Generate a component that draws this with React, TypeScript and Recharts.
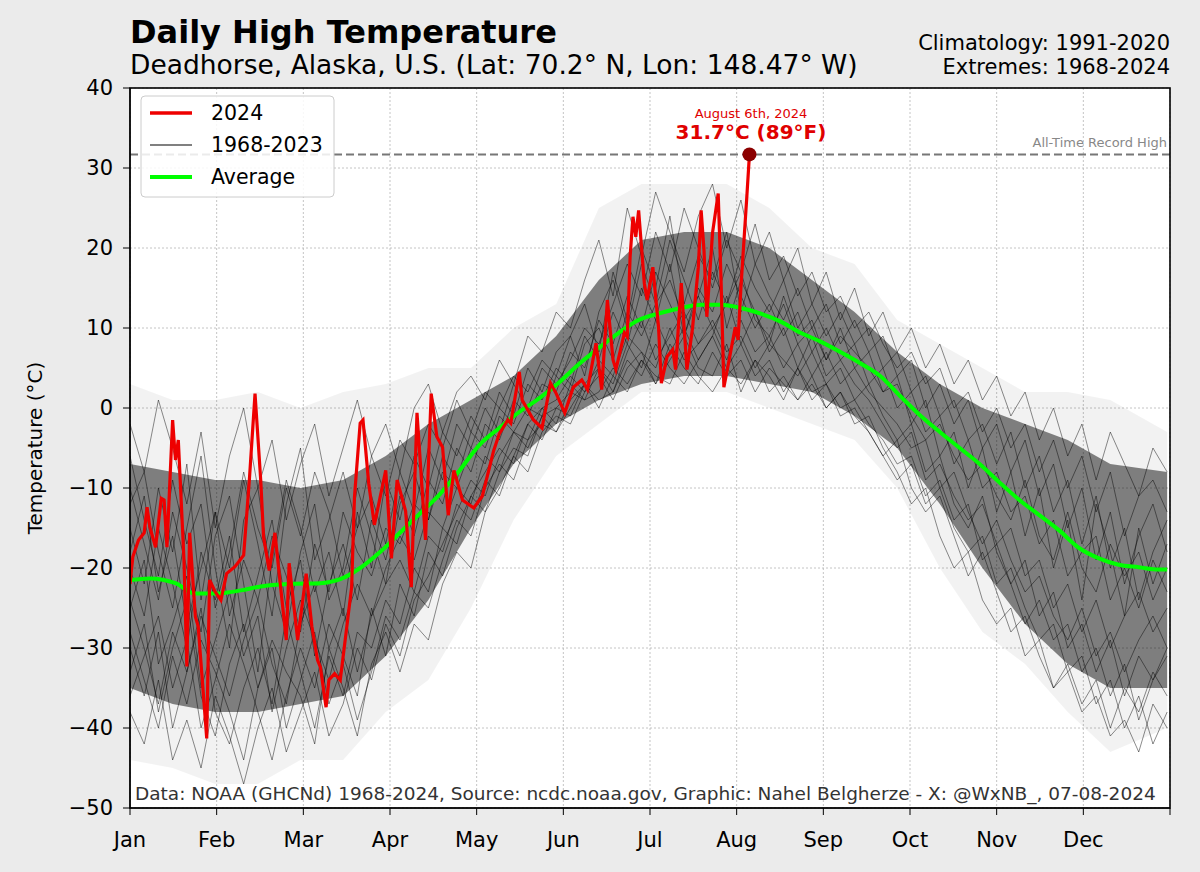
import React from 'react';
import { ComposedChart, Line, Area, XAxis, YAxis, CartesianGrid, ReferenceLine, ReferenceDot } from 'recharts';

const FONT = '"DejaVu Sans", Verdana, sans-serif';
const MONTHS = ['Jan', 'Feb', 'Mar', 'Apr', 'May', 'Jun', 'Jul', 'Aug', 'Sep', 'Oct', 'Nov', 'Dec'];
const X_TICKS = [0, 30.5, 61, 91.5, 122, 152.5, 183, 213.5, 244, 274.5, 305, 335.5, 366];
const Y_TICKS = [-50, -40, -30, -20, -10, 0, 10, 20, 30, 40];

// 2024 daily highs (day of year, 0 = Jan 1)
const RED_DAYS = [0, 1, 3, 5, 6, 7, 9, 11, 12, 13, 15, 16, 17, 19, 20, 21, 23, 24, 27, 28, 30, 32, 34, 37, 40, 42, 44, 46, 47, 49, 51, 53, 55, 56, 59, 62, 64, 66, 67, 69, 70, 72, 74, 76, 78, 79, 81, 82, 84, 86, 90, 92, 94, 97, 99, 101, 104, 106, 108, 110, 112, 114, 117, 121, 124, 128, 130, 133, 134, 137, 138, 142, 145, 148, 150, 153, 156, 159, 161, 164, 166, 168, 170, 171, 174, 175, 176, 177, 178, 179, 181, 182, 184, 186, 187, 189, 191, 192, 194, 195, 196, 198, 200, 201, 202, 203, 205, 207, 208, 209, 210, 213, 214, 215, 217, 218];
const RED_VALS = [-22, -18.6, -16.5, -15.6, -12.4, -14.9, -17.4, -11.3, -11.5, -17.4, -1.5, -6.5, -4, -19, -32.3, -15.6, -26.1, -27.3, -41.3, -21.5, -23, -24, -20.7, -19.8, -18.4, -9, 1.8, -9, -16.1, -20.3, -15.6, -22.4, -29, -19.4, -29, -20.7, -27.3, -31.5, -32.4, -37.4, -34, -33.2, -34, -28.2, -22.4, -11.1, -1.9, -1.5, -9.4, -14.6, -7.8, -18.8, -9, -12.9, -22.4, -0.6, -16.5, 1.8, -3.6, -4.9, -13.4, -7.8, -11.5, -12.5, -11, -5.3, -3.2, -1.5, -1.9, 4.5, 1, -1.5, -2.5, 3.1, 1.8, -0.6, 2.6, 3.5, 2.3, 8.1, 2.3, 13.5, 6, 4.8, 9.4, 8.9, 18.9, 23.9, 21.4, 24.7, 15.6, 13.5, 17.6, 10.1, 3.1, 6.4, 7.3, 4.8, 15.6, 10.1, 4.8, 10.1, 17.6, 24.7, 19.7, 11.4, 21.9, 26.8, 16, 2.6, 4.4, 10.1, 8.5, 15.1, 26, 31.7];

// 1991-2020 average
const AVG_DAYS = [0, 7, 16, 23, 30, 39, 46, 56, 67, 74, 81, 88, 95, 102, 109, 116, 123, 130, 137, 144, 151, 158, 165, 172, 179, 187, 194, 201, 208, 215, 222, 229, 236, 243, 250, 257, 264, 271, 278, 285, 292, 299, 306, 313, 320, 327, 334, 341, 348, 355, 362, 365];
const AVG_VALS = [-21.5, -21.3, -21.9, -23.2, -23.2, -22.8, -22.3, -22, -21.9, -21.4, -20, -18, -15.6, -13.2, -10.8, -7.8, -4.6, -2.5, -0.5, 1.2, 3.2, 5.5, 7.5, 9.4, 11, 11.9, 12.5, 12.9, 12.9, 12.5, 11.8, 10.8, 9.4, 8.3, 7, 5.6, 4, 1.5, -0.9, -3, -5, -7, -9.3, -11.5, -13.4, -15.3, -17.5, -18.8, -19.6, -19.9, -20.2, -20.2];

// spread of the 1968-2023 spaghetti: dense core and outer extent
const BAND_DAYS = [0, 15, 30, 45, 60, 75, 90, 105, 120, 135, 150, 165, 180, 195, 210, 225, 240, 255, 270, 285, 300, 315, 330, 345, 365];
const CORE_LO = [-35, -37, -38, -38, -37, -36, -31, -24, -15, -7, -2, 1, 3, 4, 4, 3, 2, -1, -5, -12, -20, -27, -32, -35, -35];
const CORE_HI = [-7, -8, -9, -9, -10, -9, -6, -2, 1, 4, 9, 16, 21, 22, 22, 20, 16, 12, 7, 3, 0, -2, -4, -7, -8];
const OUTER_LO = [-44, -45, -47, -47, -44, -44, -38, -34, -25, -14, -6, -2, 2, 2, 2, 0, -2, -4, -10, -20, -28, -32, -38, -43, -40];
const OUTER_HI = [3, 1, 1, 2, 0, 2, 3, 5, 5, 10, 13, 25, 28, 28, 28, 25, 20, 18, 11, 8, 5, 2, 2, 1, -3];

// a handful of past years, every 5 days
const TRACE_DAYS = [0, 5, 10, 15, 20, 25, 30, 35, 40, 45, 50, 55, 60, 65, 70, 75, 80, 85, 90, 95, 100, 105, 110, 115, 120, 125, 130, 135, 140, 145, 150, 155, 160, 165, 170, 175, 180, 185, 190, 195, 200, 205, 210, 215, 220, 225, 230, 235, 240, 245, 250, 255, 260, 265, 270, 275, 280, 285, 290, 295, 300, 305, 310, 315, 320, 325, 330, 335, 340, 345, 350, 355, 360, 365];
const TRACES = [
  [-12, -8, -18, -25, -15, -6, -20, -30, -14, -10, -22, -28, -18, -12, -24, -20, -10, -16, -22, -12, -8, -14, -6, -9, -3, -5, 0, -2, 3, 1, 5, 3, 9, 6, 12, 8, 15, 11, 18, 9, 14, 20, 10, 16, 12, 8, 14, 9, 11, 6, 10, 5, 7, 2, 4, -2, 1, -6, -3, -10, -5, -13, -8, -16, -10, -20, -14, -24, -12, -18, -26, -15, -22, -17],
  [-30, -36, -28, -40, -33, -25, -38, -42, -35, -30, -37, -26, -33, -40, -31, -36, -28, -30, -24, -27, -20, -23, -15, -17, -11, -8, -5, -7, -2, 0, 1, 4, 2, 6, 4, 9, 7, 5, 10, 6, 8, 11, 7, 9, 5, 8, 6, 4, 7, 3, 5, 1, 3, -1, -4, -2, -8, -6, -12, -15, -11, -18, -22, -19, -26, -23, -30, -27, -33, -29, -36, -31, -34, -30],
  [-20, -26, -15, -22, -30, -18, -24, -16, -28, -21, -14, -25, -19, -31, -22, -17, -24, -14, -19, -11, -16, -9, -12, -5, -8, -2, -4, 1, -1, 3, 2, 7, 5, 11, 8, 14, 10, 17, 13, 9, 15, 12, 18, 14, 10, 13, 9, 12, 7, 10, 6, 8, 3, 5, 0, 2, -3, -1, -7, -4, -10, -8, -13, -11, -17, -14, -21, -18, -16, -24, -20, -25, -19, -23],
  [-38, -42, -34, -44, -39, -45, -36, -41, -47, -40, -35, -43, -38, -33, -41, -37, -30, -34, -27, -31, -24, -21, -17, -13, -9, -11, -6, -3, -4, 0, -2, 3, 1, 2, 5, 3, 6, 4, 3, 7, 4, 2, 5, 3, 6, 2, 4, 1, 3, 0, 2, -2, -1, -5, -8, -12, -10, -16, -20, -18, -24, -27, -25, -31, -29, -35, -33, -38, -36, -41, -39, -43, -37, -40],
  [-2, -8, 1, -5, -12, -3, -15, -6, 0, -10, -4, -14, -7, -2, -11, -5, 1, -6, -2, -8, 0, 3, -3, 2, 4, 1, 6, 3, 9, 7, 12, 10, 16, 21, 14, 25, 19, 27, 22, 17, 24, 28, 20, 26, 18, 22, 16, 20, 13, 17, 11, 15, 9, 12, 7, 10, 5, 8, 3, 6, 1, 4, -1, 2, -4, 0, -6, -2, -9, -3, -7, -11, -5, -8],
  [-25, -19, -32, -27, -21, -35, -29, -23, -31, -26, -38, -30, -24, -29, -34, -27, -22, -26, -20, -16, -19, -13, -15, -10, -12, -6, -8, -3, -5, -1, 0, 2, 1, 5, 3, 8, 5, 11, 7, 10, 6, 9, 14, 8, 12, 7, 10, 5, 9, 4, 6, 3, 1, -2, -5, -3, -9, -7, -11, -14, -12, -17, -15, -21, -19, -25, -22, -28, -24, -30, -26, -23, -28, -25],
  [-15, -22, -10, -18, -7, -24, -13, -20, -9, -17, -26, -12, -5, -19, -14, -8, -15, -6, -11, -4, -7, -2, -5, 1, -3, 2, 0, 4, 2, 6, 4, 9, 13, 7, 17, 11, 20, 15, 24, 13, 19, 16, 22, 12, 18, 14, 11, 15, 10, 13, 8, 11, 7, 9, 4, 6, 0, 3, -2, 1, -5, -2, -8, -4, -11, -7, -15, -10, -19, -13, -22, -16, -12, -18],
  [-33, -27, -38, -30, -24, -36, -41, -32, -27, -35, -30, -40, -34, -28, -37, -32, -39, -33, -26, -29, -23, -25, -19, -14, -16, -10, -7, -9, -4, -2, -3, 1, 3, 0, 4, 2, 6, 3, 8, 5, 3, 7, 4, 6, 2, 5, 3, 1, 4, 0, 2, -1, -3, -6, -4, -10, -13, -11, -16, -21, -18, -23, -28, -26, -31, -35, -32, -37, -34, -40, -35, -38, -33, -36],
  [-18, -11, -23, -16, -27, -20, -13, -26, -19, -24, -16, -21, -28, -17, -23, -13, -18, -21, -15, -17, -12, -14, -8, -10, -5, -7, -1, -3, 0, -1, 4, 2, 8, 10, 6, 12, 9, 13, 16, 11, 14, 10, 13, 17, 11, 9, 13, 8, 10, 6, 9, 7, 5, 2, 3, -1, -4, -2, -6, -9, -7, -11, -14, -9, -16, -19, -13, -20, -23, -17, -21, -18, -24, -20],
  [-28, -34, -40, -31, -37, -29, -33, -38, -44, -35, -29, -33, -36, -42, -30, -35, -41, -32, -28, -33, -27, -29, -22, -18, -20, -13, -10, -6, -8, -3, -1, -2, 2, 4, 1, 5, 7, 3, 6, 9, 5, 4, 8, 2, 6, 4, 1, 5, 2, 3, 0, 1, -2, -4, -7, -6, -11, -9, -14, -12, -19, -17, -22, -27, -24, -29, -27, -33, -30, -36, -32, -39, -34, -31],
  [-10, -17, -24, -13, -20, -28, -16, -11, -22, -33, -19, -9, -15, -23, -18, -26, -13, -20, -9, -14, -6, -10, -3, -6, -1, -4, 2, -1, 5, 2, 7, 9, 4, 12, 16, 10, 18, 13, 21, 16, 11, 17, 13, 19, 15, 12, 16, 10, 13, 9, 12, 8, 10, 5, 7, 2, 4, -1, 1, -4, -2, -7, -3, -10, -6, -13, -9, -17, -11, -20, -15, -24, -18, -14],
  [-36, -31, -26, -35, -29, -40, -34, -27, -32, -38, -44, -36, -30, -35, -27, -31, -36, -25, -31, -22, -26, -18, -21, -15, -11, -13, -8, -5, -6, -1, -3, 0, 3, 1, 2, 6, 4, 8, 5, 3, 6, 9, 5, 8, 4, 6, 2, 5, 1, 3, -1, 0, -3, -6, -9, -7, -12, -10, -15, -18, -16, -22, -20, -25, -29, -27, -33, -31, -37, -34, -40, -36, -42, -38],
  [-6, -14, -21, -9, -17, -12, -25, -18, -8, -15, -20, -10, -16, -8, -13, -21, -15, -11, -17, -8, -13, -5, -9, -2, -5, 0, -3, 3, 0, 5, 3, 6, 10, 8, 13, 18, 14, 22, 17, 25, 20, 15, 21, 17, 23, 16, 19, 14, 17, 12, 14, 10, 12, 8, 5, 7, 3, 5, 0, 2, -3, 0, -5, -2, -8, -4, -10, -6, -13, -8, -16, -11, -9, -13],
  [-24, -30, -37, -28, -33, -26, -31, -36, -29, -24, -32, -37, -27, -22, -30, -25, -33, -26, -22, -19, -23, -16, -18, -12, -14, -9, -11, -6, -2, -4, 0, -1, 3, 5, 2, 7, 11, 6, 9, 12, 8, 10, 6, 11, 7, 9, 5, 8, 4, 7, 3, 5, 2, 0, -2, -5, -4, -10, -8, -13, -17, -14, -19, -23, -21, -26, -29, -25, -31, -28, -33, -29, -26, -30],
];

const redData = RED_DAYS.map((day, i) => ({ day, v: RED_VALS[i] }));
const avgData = AVG_DAYS.map((day, i) => ({ day, v: AVG_VALS[i] }));
const coreData = BAND_DAYS.map((day, i) => ({ day, range: [CORE_LO[i], CORE_HI[i]] }));
const outerData = BAND_DAYS.map((day, i) => ({ day, range: [OUTER_LO[i], OUTER_HI[i]] }));
const traceData = TRACE_DAYS.map((day, i) => {
  const row: Record<string, number> = { day };
  TRACES.forEach((t, k) => { row['t' + k] = t[i]; });
  return row;
});

const fmtTemp = (v: number) => (v < 0 ? `\u2212${Math.abs(v)}` : `${v}`);
const fmtMonth = (v: number) => MONTHS[Math.round(v / 30.5)] ?? '';

const Overlay: React.FC = () => (
  <svg width={1200} height={872} style={{ position: 'absolute', left: 0, top: 0, pointerEvents: 'none' }} fontFamily={FONT}>
    <rect x={130} y={88} width={1040} height={720} fill="none" stroke="#000" strokeWidth={1.6} />
    <text x={130} y={43} fontSize={32} fontWeight="bold">Daily High Temperature</text>
    <text x={130} y={74} fontSize={26.5}>Deadhorse, Alaska, U.S. (Lat: 70.2° N, Lon: 148.47° W)</text>
    <text x={1170} y={50} fontSize={21} textAnchor="end">Climatology: 1991-2020</text>
    <text x={1170} y={74} fontSize={21} textAnchor="end">Extremes: 1968-2024</text>
    <text x={42} y={448} fontSize={20} textAnchor="middle" transform="rotate(-90 42 448)">Temperature (°C)</text>
    <text x={1167} y={147} fontSize={13} textAnchor="end" fill="#888">All-Time Record High</text>
    <text x={751} y={118} fontSize={13} textAnchor="middle" fill="#e00000">August 6th, 2024</text>
    <text x={751} y={139} fontSize={20} fontWeight="bold" textAnchor="middle" fill="#e00000">31.7°C (89°F)</text>
    <text x={135} y={800} fontSize={18.5} fill="#333">Data: NOAA (GHCNd) 1968-2024, Source: ncdc.noaa.gov, Graphic: Nahel Belgherze - X: @WxNB_, 07-08-2024</text>
    {/* legend */}
    <rect x={141} y={96} width={193} height={101} rx={4} fill="#fff" fillOpacity={0.85} stroke="#ccc" />
    <line x1={150} x2={192} y1={113} y2={113} stroke="#ee0000" strokeWidth={3.5} />
    <line x1={150} x2={192} y1={145} y2={145} stroke="#808080" strokeWidth={2} />
    <line x1={150} x2={192} y1={177} y2={177} stroke="#00ff00" strokeWidth={4} />
    <text x={211} y={120} fontSize={20.5}>2024</text>
    <text x={211} y={152} fontSize={20.5}>1968-2023</text>
    <text x={211} y={184} fontSize={20.5}>Average</text>
  </svg>
);

export default function App() {
  return (
    <div style={{ position: 'absolute', left: 0, top: 0, width: 1200, height: 872, background: '#ebebeb', fontFamily: FONT }}>
      <ComposedChart width={1200} height={872} margin={{ top: 88, right: 30, bottom: 24, left: 70 }}>
        <CartesianGrid fill="#fff" fillOpacity={1} stroke="#b5b5b5" strokeDasharray="2 2" strokeWidth={0.8} />
        <XAxis
          dataKey="day"
          type="number"
          domain={[0, 366]}
          ticks={X_TICKS}
          tickFormatter={fmtMonth}
          height={40}
          tickSize={7}
          tickMargin={17}
          interval={0}
          allowDataOverflow
          axisLine={{ stroke: '#000' }}
          tickLine={{ stroke: '#000' }}
          tick={{ fill: '#000', fontSize: 21, fontFamily: FONT }}
        />
        <YAxis
          type="number"
          domain={[-50, 40]}
          ticks={Y_TICKS}
          tickFormatter={fmtTemp}
          width={60}
          tickSize={7}
          tickMargin={10}
          interval={0}
          allowDataOverflow
          axisLine={{ stroke: '#000' }}
          tickLine={{ stroke: '#000' }}
          tick={{ fill: '#000', fontSize: 21, fontFamily: FONT }}
        />
        <Area data={outerData} dataKey="range" type="linear" stroke="none" fill="#000" fillOpacity={0.05} isAnimationActive={false} />
        <Area data={coreData} dataKey="range" type="linear" stroke="none" fill="#000" fillOpacity={0.48} isAnimationActive={false} />
        {TRACES.map((_, k) => (
          <Line
            key={k}
            data={traceData}
            dataKey={'t' + k}
            type="linear"
            stroke="#000"
            strokeOpacity={0.5}
            strokeWidth={0.9}
            dot={false}
            isAnimationActive={false}
          />
        ))}
        <ReferenceLine y={31.7} stroke="#777" strokeWidth={2} strokeDasharray="8 4" />
        <Line data={avgData} dataKey="v" type="monotone" stroke="#00ff00" strokeWidth={4} dot={false} isAnimationActive={false} />
        <Line data={redData} dataKey="v" type="linear" stroke="#ee0000" strokeWidth={3.2} dot={false} isAnimationActive={false} />
        <ReferenceDot x={218} y={31.7} r={7} fill="#8b0000" stroke="none" />
      </ComposedChart>
      <Overlay />
    </div>
  );
}
